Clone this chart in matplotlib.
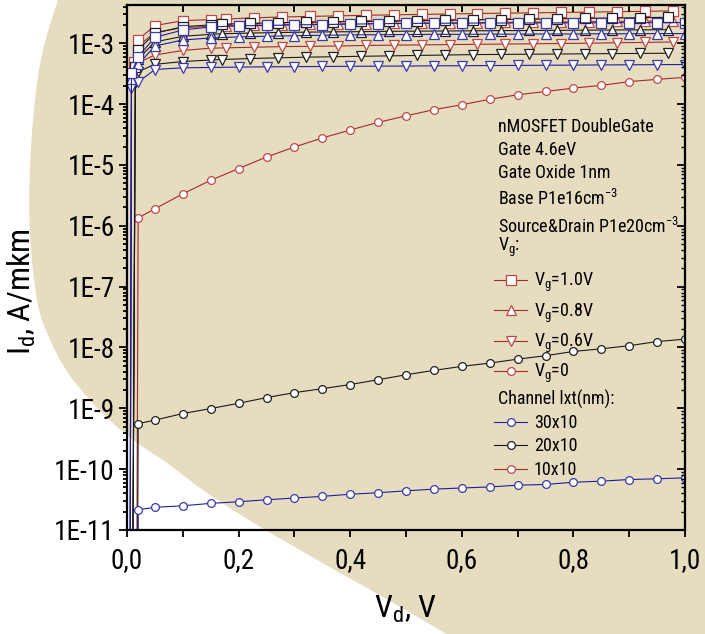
import numpy as np
import matplotlib
matplotlib.use("Agg")
import matplotlib.pyplot as plt
from matplotlib import font_manager as fm
from matplotlib.patches import Polygon
from matplotlib.lines import Line2D
from matplotlib.ticker import MultipleLocator, LogLocator, FuncFormatter, NullFormatter


def pick_narrow_face():
    """Return (family, stretch) of an installed narrow sans face, or None."""
    wanted = ['Liberation Sans Narrow', 'Arial Narrow', 'Roboto Condensed',
              'Noto Sans', 'Open Sans', 'Roboto', 'DejaVu Sans', 'Liberation Sans']
    narrow = ('condensed', 'semi-condensed')
    for fam in wanted:
        for f in fm.fontManager.ttflist:
            if f.name != fam or f.style != 'normal':
                continue
            if str(f.weight) not in ('400', 'normal', 'regular', 'book'):
                continue
            if 'Narrow' in fam or 'Condensed' in fam or f.stretch in narrow:
                return f.name, f.stretch
    return None


face = pick_narrow_face()
if face is not None:
    plt.rcParams['font.family'] = [face[0], 'DejaVu Sans']
    plt.rcParams['font.stretch'] = face[1]
    FS = 1.0
else:
    plt.rcParams['font.family'] = ['Liberation Sans', 'DejaVu Sans']
    FS = 0.86
plt.rcParams['mathtext.default'] = 'regular'

# ---------------- data: drain current I_d (A/mkm) versus drain voltage V_d (V) ----------------
# gate off (Vg = 0), common drain-voltage grid
V_OFF = [0.01, 0.02, 0.05, 0.10, 0.15, 0.20, 0.25, 0.30, 0.35, 0.40, 0.45,
         0.50, 0.55, 0.60, 0.65, 0.70, 0.75, 0.80, 0.85, 0.90, 0.95, 1.00]
I_OFF_30x10 = [1e-30, 2.15e-11, 2.36e-11, 2.5e-11, 2.74e-11, 2.91e-11, 3.14e-11, 3.35e-11,
               3.57e-11, 3.87e-11, 4.1e-11, 4.4e-11, 4.7e-11, 4.9e-11, 5.1e-11, 5.45e-11,
               5.6e-11, 6.1e-11, 6.35e-11, 6.75e-11, 6.95e-11, 7.2e-11]
I_OFF_20x10 = [1e-30, 5.6e-10, 6.4e-10, 8.2e-10, 9.9e-10, 1.21e-9, 1.5e-9, 1.81e-9, 2.1e-9,
               2.46e-9, 2.95e-9, 3.56e-9, 4.2e-9, 4.89e-9, 5.53e-9, 6.43e-9, 7.31e-9, 8.6e-9,
               9.5e-9, 1.07e-8, 1.25e-8, 1.37e-8]
I_OFF_10x10 = [1e-30, 1.35e-6, 1.9e-6, 3.35e-6, 5.6e-6, 8.7e-6, 1.35e-5, 1.97e-5, 2.77e-5,
               3.75e-5, 5.0e-5, 6.4e-5, 8.1e-5, 9.75e-5, 1.2e-4, 1.42e-4, 1.61e-4, 1.83e-4,
               2.03e-4, 2.34e-4, 2.55e-4, 2.75e-4]

# gate on, drain-voltage grids per channel
V_ON_30x10 = [0.0, 0.008, 0.02, 0.05, 0.10, 0.15, 0.20, 0.25, 0.30, 0.35, 0.40, 0.45,
              0.50, 0.55, 0.60, 0.65, 0.70, 0.75, 0.80, 0.85, 0.90, 0.95, 1.00]
V_ON_20x10 = [0.0, 0.015, 0.02, 0.05, 0.10, 0.15, 0.17, 0.22, 0.27, 0.32, 0.37, 0.42,
              0.47, 0.52, 0.57, 0.62, 0.67, 0.72, 0.77, 0.82, 0.87, 0.92, 0.97]
V_ON_10x10 = [0.012, 0.02, 0.05, 0.10, 0.15, 0.178, 0.228, 0.278, 0.328, 0.378, 0.428,
              0.478, 0.528, 0.578, 0.628, 0.678, 0.728, 0.778, 0.828, 0.878, 0.928, 0.978]

I_30x10_VG10 = [1e-30, 3.2e-4, 6.0e-4, 1.25e-3, 1.65e-3, 1.85e-3, 1.93e-3, 1.96e-3, 2.0e-3,
                2.03e-3, 2.06e-3, 2.09e-3, 2.12e-3, 2.13e-3, 2.14e-3, 2.15e-3, 2.15e-3,
                2.16e-3, 2.16e-3, 2.17e-3, 2.17e-3, 2.18e-3, 2.18e-3]
I_30x10_VG08 = [1e-30, 2.6e-4, 4.5e-4, 9.0e-4, 1.13e-3, 1.22e-3, 1.27e-3, 1.30e-3, 1.33e-3,
                1.35e-3, 1.37e-3, 1.38e-3, 1.39e-3, 1.40e-3, 1.40e-3, 1.41e-3, 1.41e-3,
                1.42e-3, 1.42e-3, 1.43e-3, 1.43e-3, 1.44e-3, 1.44e-3]
I_30x10_VG06 = [1e-30, 1.85e-4, 2.3e-4, 3.7e-4, 3.95e-4, 4.0e-4, 4.05e-4, 4.1e-4, 4.12e-4,
                4.15e-4, 4.18e-4, 4.2e-4, 4.22e-4, 4.25e-4, 4.27e-4, 4.3e-4, 4.32e-4,
                4.35e-4, 4.37e-4, 4.4e-4, 4.42e-4, 4.45e-4, 4.47e-4]

I_20x10_VG10 = [1e-30, 4.0e-4, 7.8e-4, 1.46e-3, 1.87e-3, 2.0e-3, 2.05e-3, 2.12e-3, 2.17e-3,
                2.21e-3, 2.25e-3, 2.28e-3, 2.31e-3, 2.34e-3, 2.38e-3, 2.42e-3, 2.45e-3,
                2.48e-3, 2.52e-3, 2.56e-3, 2.6e-3, 2.63e-3, 2.67e-3]
I_20x10_VG08 = [1e-30, 3.0e-4, 5.5e-4, 1.05e-3, 1.3e-3, 1.4e-3, 1.43e-3, 1.47e-3, 1.5e-3,
                1.52e-3, 1.54e-3, 1.55e-3, 1.57e-3, 1.58e-3, 1.59e-3, 1.6e-3, 1.61e-3,
                1.62e-3, 1.63e-3, 1.64e-3, 1.65e-3, 1.66e-3, 1.67e-3]
I_20x10_VG06 = [1e-30, 2.2e-4, 3.4e-4, 4.5e-4, 5.0e-4, 5.3e-4, 5.4e-4, 5.6e-4, 5.75e-4,
                5.9e-4, 6.0e-4, 6.1e-4, 6.2e-4, 6.3e-4, 6.4e-4, 6.5e-4, 6.55e-4,
                6.6e-4, 6.65e-4, 6.7e-4, 6.75e-4, 6.8e-4, 6.85e-4]

I_10x10_VG10 = [5.0e-4, 1.15e-3, 1.95e-3, 2.35e-3, 2.45e-3, 2.5e-3, 2.62e-3, 2.7e-3,
                2.76e-3, 2.82e-3, 2.88e-3, 2.93e-3, 2.98e-3, 3.03e-3, 3.08e-3, 3.12e-3,
                3.16e-3, 3.2e-3, 3.25e-3, 3.3e-3, 3.35e-3, 3.4e-3]
I_10x10_VG08 = [4.2e-4, 9.0e-4, 1.5e-3, 1.8e-3, 1.9e-3, 1.93e-3, 1.98e-3, 2.02e-3,
                2.05e-3, 2.08e-3, 2.1e-3, 2.12e-3, 2.14e-3, 2.16e-3, 2.18e-3, 2.2e-3,
                2.22e-3, 2.24e-3, 2.26e-3, 2.28e-3, 2.3e-3, 2.32e-3]
I_10x10_VG06 = [2.8e-4, 4.8e-4, 6.4e-4, 7.6e-4, 8.3e-4, 8.4e-4, 8.6e-4, 8.8e-4,
                8.9e-4, 9.0e-4, 9.2e-4, 9.3e-4, 9.4e-4, 9.5e-4, 9.6e-4, 9.7e-4,
                9.8e-4, 9.9e-4, 1.0e-3, 1.02e-3, 1.03e-3, 1.05e-3]

VG_LABELS = ['V$_g$=1.0V', 'V$_g$=0.8V', 'V$_g$=0.6V', 'V$_g$=0']
CHANNEL_LABELS = ['30x10', '20x10', '10x10']
INFO_LINES = ['nMOSFET DoubleGate', 'Gate 4.6eV', 'Gate Oxide 1nm',
              'Base P1e16cm$^{-3}$', 'Source&Drain P1e20cm$^{-3}$', 'V$_g$:']

# ---------------- styling ----------------
W, H = 705, 634
BEIGE = '#E6DCBF'
C_RED, C_RED_EDGE = '#A52A2A', '#C04848'
C_BLK, C_BLK_EDGE = '#1A1A1A', '#202020'
C_BLU, C_BLU_EDGE = '#1E1E9A', '#3A3AAA'
MARKERS = {'1.0': 's', '0.8': '^', '0.6': 'v', '0': 'o'}
MSIZE = {'s': 6.6, '^': 7.4, 'v': 7.4, 'o': 5.6}
TICK_FS = 19.5 * FS
LABEL_FS = 23 * FS
NOTE_FS = 13 * FS

fig = plt.figure(figsize=(W / 100, H / 100), dpi=100)
fig.patch.set_facecolor('white')


def catmull_rom(points, n=24):
    p = np.asarray(points, float)
    p = np.vstack([p[0], p, p[-1]])
    t = np.linspace(0, 1, n, endpoint=False)[:, None]
    segs = []
    for i in range(1, len(p) - 2):
        p0, p1, p2, p3 = p[i - 1], p[i], p[i + 1], p[i + 2]
        segs.append(0.5 * (2 * p1 + (-p0 + p2) * t + (2 * p0 - 5 * p1 + 4 * p2 - p3) * t ** 2
                           + (-p0 + 3 * p1 - 3 * p2 + p3) * t ** 3))
    segs.append(p[-2][None])
    return np.vstack(segs)


# decorative backdrop: large rounded beige field behind the plot
outline_px = [(66, -20), (58, 0), (43, 50), (35, 100), (30, 167), (30, 233), (37, 300),
              (48, 335), (66, 370), (90, 400), (115, 425), (140, 445), (167, 463),
              (200, 488), (233, 510), (267, 531), (300, 550), (333, 569), (367, 588),
              (400, 607), (433, 626), (470, 648)]
curve = catmull_rom(outline_px)
poly_px = np.vstack([curve, [(760, 648), (760, -20)]])
poly_fig = np.column_stack([poly_px[:, 0] / W, 1 - poly_px[:, 1] / H])
fig.add_artist(Polygon(poly_fig, closed=True, transform=fig.transFigure,
                       facecolor=BEIGE, edgecolor='none', zorder=-5))

# axes frame in pixels: left 127, right 685, top 5, bottom 530
ax = fig.add_axes([127 / W, 1 - 530 / H, (685 - 127) / W, (530 - 5) / H])
ax.set_facecolor('none')
ax.set_yscale('log')
ax.set_xlim(0, 1)
ax.set_ylim(1e-11, 4.25e-3)

series = [
    # (x, y, gate voltage key, line color, marker edge color)
    (V_ON_10x10, I_10x10_VG06, '0.6', C_RED, C_RED_EDGE),
    (V_ON_10x10, I_10x10_VG08, '0.8', C_RED, C_RED_EDGE),
    (V_ON_10x10, I_10x10_VG10, '1.0', C_RED, C_RED_EDGE),
    (V_OFF, I_OFF_10x10, '0', C_RED, C_RED_EDGE),
    (V_ON_20x10, I_20x10_VG06, '0.6', C_BLK, C_BLK_EDGE),
    (V_ON_20x10, I_20x10_VG08, '0.8', C_BLK, C_BLK_EDGE),
    (V_ON_20x10, I_20x10_VG10, '1.0', C_BLK, C_BLK_EDGE),
    (V_OFF, I_OFF_20x10, '0', C_BLK, C_BLK_EDGE),
    (V_ON_30x10, I_30x10_VG06, '0.6', C_BLU, C_BLU_EDGE),
    (V_ON_30x10, I_30x10_VG08, '0.8', C_BLU, C_BLU_EDGE),
    (V_ON_30x10, I_30x10_VG10, '1.0', C_BLU, C_BLU_EDGE),
    (V_OFF, I_OFF_30x10, '0', C_BLU, C_BLU_EDGE),
]
for x, y, vg, lc, ec in series:
    m = MARKERS[vg]
    ax.plot(x, y, color=lc, lw=0.8, marker=m, ms=MSIZE[m], mfc='white', mec=ec, mew=0.9)

# spines and ticks
for s in ax.spines.values():
    s.set_linewidth(1.6)
ax.xaxis.set_major_locator(MultipleLocator(0.2))
ax.xaxis.set_minor_locator(MultipleLocator(0.1))
ax.xaxis.set_major_formatter(FuncFormatter(lambda v, p: f"{v:.1f}".replace('.', ',')))
ax.yaxis.set_major_locator(LogLocator(base=10, numticks=20))
ax.yaxis.set_minor_locator(LogLocator(base=10, subs=np.arange(2, 10), numticks=20))
ax.yaxis.set_major_formatter(FuncFormatter(lambda v, p: f"1E{int(round(np.log10(v)))}"))
ax.yaxis.set_minor_formatter(NullFormatter())
ax.tick_params(axis='both', which='both', direction='out', width=1.3, labelsize=TICK_FS)
ax.tick_params(axis='y', which='major', length=6, pad=3)
ax.tick_params(axis='y', which='minor', length=3)
ax.tick_params(axis='x', which='both', length=5, pad=7)

# inward ticks on the top and right frame
axt = ax.twiny()
axt.set_xlim(ax.get_xlim())
axt.xaxis.set_major_locator(MultipleLocator(0.1))
axt.tick_params(axis='x', direction='in', length=5, width=1.3, labeltop=False)
axr = ax.twinx()
axr.set_yscale('log')
axr.set_ylim(ax.get_ylim())
axr.yaxis.set_major_locator(LogLocator(base=10, numticks=20))
axr.yaxis.set_minor_locator(LogLocator(base=10, subs=np.arange(2, 10), numticks=20))
axr.tick_params(axis='y', which='major', direction='in', length=6, width=1.3, labelright=False)
axr.tick_params(axis='y', which='minor', direction='in', length=3, width=1.0, labelright=False)
for a in (axt, axr):
    a.set_facecolor('none')
    for s in a.spines.values():
        s.set_visible(False)

ax.set_xlabel('V$_d$, V', fontsize=LABEL_FS)
ax.set_ylabel('I$_d$, A/mkm', fontsize=LABEL_FS)
ax.xaxis.set_label_coords(0.50, -0.122)
ax.yaxis.set_label_coords(-0.16, 0.455)

# descriptive block and legends
info_y = [127, 150, 173, 199, 227, 247]
for txt, ypx in zip(INFO_LINES, info_y):
    ax.text((498 - 127) / 558, (530 - ypx) / 525, txt, transform=ax.transAxes,
            fontsize=NOTE_FS, va='center', ha='left')
ax.text((498 - 127) / 558, (530 - 399) / 525, 'Channel lxt(nm):', transform=ax.transAxes,
        fontsize=NOTE_FS, va='center', ha='left')

vg_handles = [Line2D([], [], color=C_RED, lw=0.8, marker=MARKERS[k], ms=MSIZE[MARKERS[k]],
                     mfc='white', mec=C_RED_EDGE, mew=0.9) for k in ['1.0', '0.8', '0.6', '0']]
leg1 = ax.legend(vg_handles, VG_LABELS, loc='upper left',
                 bbox_to_anchor=((494 - 127) / 558, (530 - 271) / 525),
                 frameon=False, fontsize=NOTE_FS, handlelength=1.85, handletextpad=0.35,
                 borderpad=0, borderaxespad=0, labelspacing=0.4)
ax.add_artist(leg1)
ch_handles = [Line2D([], [], color=c, lw=0.8, marker='o', ms=5.6, mfc='white', mec=e, mew=0.9)
              for c, e in [(C_BLU, C_BLU_EDGE), (C_BLK, C_BLK_EDGE), (C_RED, C_RED_EDGE)]]
ax.legend(ch_handles, CHANNEL_LABELS, loc='upper left',
          bbox_to_anchor=((494 - 127) / 558, (530 - 414) / 525),
          frameon=False, fontsize=NOTE_FS, handlelength=1.85, handletextpad=0.35,
          borderpad=0, borderaxespad=0, labelspacing=0.3)

fig.savefig('out.png', dpi=100)
